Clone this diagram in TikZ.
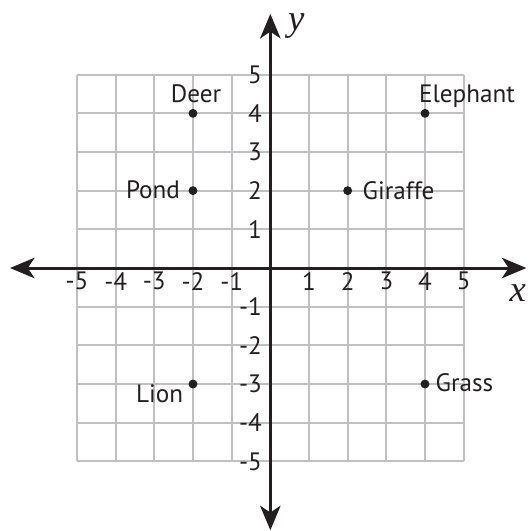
\documentclass[tikz,border=0pt]{standalone}
\usepackage{fontspec}
\usepackage{xcolor}
\setmainfont{PT Sans}
\newfontfamily\axisfont{Liberation Serif}
\usetikzlibrary{arrows.meta}
\definecolor{gridgray}{RGB}{192,192,196}
\definecolor{inkblack}{RGB}{35,31,32}

\begin{document}
\begin{tikzpicture}[font=\fontsize{18.5}{21}\selectfont,
  gridline/.style={gridgray,line width=1.5pt},
  axisline/.style={inkblack,line width=2.2pt,{Stealth[length=18pt,width=15pt,inset=5pt]}-{Stealth[length=18pt,width=15pt,inset=5pt]}},
  dot/.style={inkblack},
  tick/.style={inkblack,inner sep=0pt},
  animal/.style={inkblack,inner sep=0pt},
  axisname/.style={inkblack,inner sep=0pt,font=\axisfont\itshape\fontsize{27}{30}\selectfont}]
  \useasboundingbox (-6.99,-6.80) rectangle (6.68,6.93);
  % grid and axes
  \draw[gridline] (-5,-5) grid (5,5);
  \coordinate (L) at (-6.73,0); \coordinate (R) at (6.62,0);
  \coordinate (T) at (0,6.57); \coordinate (D) at (0,-6.78);
  \draw[axisline] (L)--(R); \draw[axisline] (D)--(T);
  \node[axisname] (xname) at (6.40,-0.66) {x};
  \node[axisname] (yname) at (0.67,6.25) {y};
  % tick labels
  \foreach \i in {-5,-4,-3,-2,-1,1,2,3,4,5} {
    \node[tick,anchor=north] (xt\i) at (\i,-0.1) {\i};
    \node[tick,anchor=east] (yt\i) at (-0.21,\i) {\i};
  }
  % points
  \fill[dot] (-2,4) circle (0.115); \node[animal,anchor=base] (deer) at (-1.92,4.27) {Deer};
  \fill[dot] (-2,2) circle (0.115); \node[animal,anchor=east] (pond) at (-2.33,2.02) {Pond};
  \fill[dot] (4,4) circle (0.115); \node[animal,anchor=base west] (elephant) at (3.84,4.27) {Elephant};
  \fill[dot] (2,2) circle (0.115); \node[animal,anchor=west] (giraffe) at (2.38,2) {Giraffe};
  \fill[dot] (-2,-3) circle (0.115); \node[animal,anchor=base east] (lion) at (-2.25,-3.47) {Lion};
  \fill[dot] (4,-3) circle (0.115); \node[animal,anchor=west] (grass) at (4.27,-2.97) {Grass};
\end{tikzpicture}
\end{document}
